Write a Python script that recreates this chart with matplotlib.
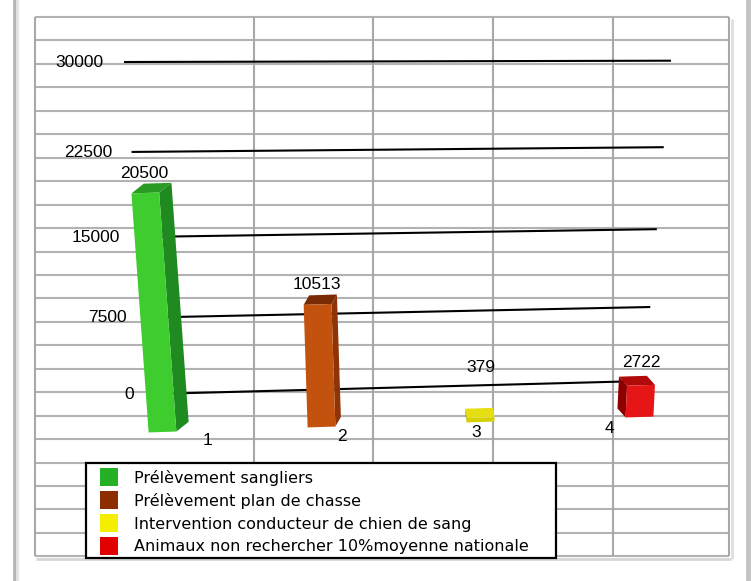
import numpy as np
import matplotlib
matplotlib.use('Agg')
import matplotlib.pyplot as plt
from matplotlib import transforms as mtransforms
from matplotlib.patches import Rectangle, Polygon
from matplotlib.lines import Line2D

# data
categories = [1, 2, 3, 4]
values = [20500, 10513, 379, 2722]
yticks = [0, 7500, 15000, 22500, 30000]
legend_labels = ['Prélèvement sangliers',
                 'Prélèvement plan de chasse',
                 'Intervention conducteur de chien de sang',
                 'Animaux non rechercher 10%moyenne nationale']
legend_colors = ['#26b026', '#8c2e02', '#f4ef00', '#e00000']
front_colors = ['#3fcc2f', '#c4520f', '#d6d000', '#e61616']
side_colors = ['#1f8a1f', '#8e3406', '#9c9600', '#8e0000']
top_colors = ['#2a9c25', '#7a2a04', '#e4de12', '#b00a0a']


# perspective of the back wall (u along the line, value) -> image pixels
def homography(src, dst):
    A, b = [], []
    for (x, y), (X, Y) in zip(src, dst):
        A.append([x, y, 1, 0, 0, 0, -x * X, -y * X]); b.append(X)
        A.append([0, 0, 0, x, y, 1, -x * Y, -y * Y]); b.append(Y)
    h = np.linalg.solve(np.array(A, float), np.array(b, float))
    return np.append(h, 1).reshape(3, 3)


class Persp(mtransforms.Transform):
    input_dims = output_dims = 2
    is_separable = False
    has_inverse = False

    def __init__(self, H):
        super().__init__()
        self.H = H

    def transform_non_affine(self, values):
        v = np.asarray(values, float).reshape(-1, 2)
        p = np.column_stack([v, np.ones(len(v))]) @ self.H.T
        return p[:, :2] / p[:, 2:3]


fig = plt.figure(figsize=(7.55, 5.81), dpi=100)

# pixel canvas for the sheet background
px = fig.add_axes([0, 0, 1, 1])
px.set_xlim(0, 755)
px.set_ylim(581, 0)
px.axis('off')

# card edges
px.axvline(14.5, color='#b4b4b4', lw=2.6)
px.axvline(17, color='#e4e4e4', lw=2)
px.axvline(747.5, color='#c4c4c4', lw=3.5)

# spreadsheet grid
rows = 17 + 23.45 * np.arange(24)
px.hlines(rows, 35, 729, color='#b2b2b2', lw=1.5)
px.vlines([35, 254, 373, 493, 613, 729], 17, 556, color='#a8a8a8', lw=1.5)
px.hlines(559, 36, 731, color='#d6d6d6', lw=2)
px.vlines(731.5, 19, 559, color='#dedede', lw=2)

H = homography([(0, 30000), (1, 30000), (0, 0), (1, 0)],
               [(125, 62), (670, 60.7), (153, 394), (643, 381)])
wall = Persp(H) + px.transData

for t in yticks:
    px.add_artist(Line2D([0, 1], [t, t], transform=wall, color='black', lw=1.5))
    px.text(-0.037, t, str(t), transform=wall, ha='right', va='center',
            fontsize=12.5, family='Liberation Sans')

# legend box
px.add_patch(Rectangle((86, 463), 470, 95, fill=True, fc='white', ec='black', lw=1.6, zorder=4))
for i, (lab, col) in enumerate(zip(legend_labels, legend_colors)):
    px.add_patch(Rectangle((100, 468 + 23 * i), 18, 18, fc=col, ec='none', zorder=5))
    px.text(134, 478 + 23 * i, lab, va='center', ha='left', fontsize=11.5,
            family='DejaVu Sans', zorder=5)

# bars
bx = fig.add_axes([0, 0, 1, 1])
bx.patch.set_alpha(0)
bx.axis('off')
x0, xs = 162.5, 159.0                  # pixel of category 1, pixels per category
base, ys = 432, 0.01166                # base pixel, pixels per unit
bx.set_xlim(1 - x0 / xs, 1 + (755 - x0) / xs)
bx.set_ylim(-(581 - base) / ys, base / ys)

tilt = 0.0314
bar_tr = bx.transData + mtransforms.Affine2D().translate(-x0, 0).skew(0, np.arctan(tilt)).translate(x0, 0)

w = 0.175
vp = 1 + (450 - x0) / xs
dy = 800
for c, v, fc, sc, tc in zip(categories, values, front_colors, side_colors, top_colors):
    dx = (vp - c) * 0.045
    # bars lean towards the vanishing point
    bxd, byd = bar_tr.transform((c, 0))
    lean = (vp - c) * xs * 0.00025
    tr = bar_tr + mtransforms.Affine2D().translate(-bxd, -byd).skew(np.arctan(-lean), 0).translate(bxd, byd)
    l, r = c - w / 2, c + w / 2
    bx.add_patch(Polygon([(l, v), (r, v), (r + dx, v + dy), (l + dx, v + dy)],
                         closed=True, fc=tc, ec='none', transform=tr))
    e = r if dx > 0 else l
    bx.add_patch(Polygon([(e, 0), (e + dx, dy), (e + dx, v + dy), (e, v)],
                         closed=True, fc=sc, ec='none', transform=tr))
    bx.add_patch(Rectangle((l, 0), w, v, fc=fc, ec='none', transform=tr))
    bx.annotate(str(v), (c, max(v, 3000) + dy), xycoords=tr,
                xytext=(0, 2), textcoords='offset points', ha='center', va='bottom',
                fontsize=12.5, family='Liberation Sans')
    bx.annotate(str(c), (c + (vp - c) * 0.157, 0), xycoords=bar_tr,
                xytext=(0, -7.5), textcoords='offset points', ha='center', va='center',
                fontsize=12.5, family='Liberation Sans')

fig.savefig('out.png', dpi=100)
